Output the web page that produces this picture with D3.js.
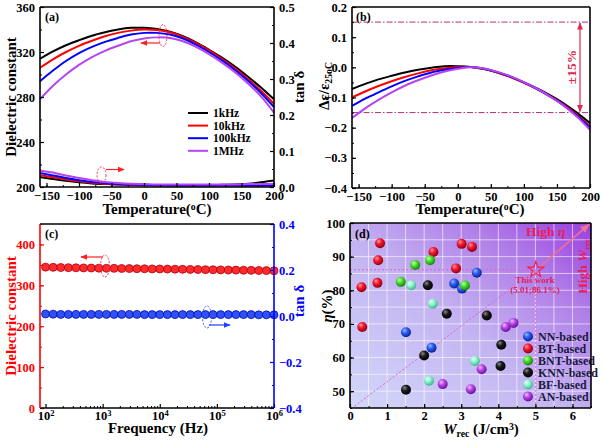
<!DOCTYPE html>
<html><head><meta charset="utf-8">
<script src="https://cdn.jsdelivr.net/npm/d3@7"></script>
<style>
body{margin:0;background:#fff}
svg{display:block}
text{font-family:"Liberation Serif","Times New Roman",serif;font-weight:bold}
</style>
</head><body>
<svg id="c" width="602" height="440"></svg>
<script>
// ---------------- DATA ----------------
const temps = [-160,-140,-120,-100,-80,-60,-40,-20,0,20,40,60,80,100,120,140,160,180,200];
const freqLabels = ["1kHz","10kHz","100kHz","1MHz"];
const eps1k   = [314,320.5,326,330.5,334.5,337.5,340,341.5,341.5,340.5,338,334,328.5,322,315,307,298,288.5,278];
const eps10k  = [306,313.5,320,325.5,330,334,337,339,340,339.5,337.5,333.5,328,321.5,314,305.5,296,285.5,274];
const eps100k = [294,303.5,312,319,324.5,329,332.5,335.5,337,337,335.5,332,326.5,320,312.5,304,294.5,283.5,271];
const eps1M   = [278,290,300,308.5,315.5,321,325.5,329.5,332,333,332.5,329.5,324.5,318,310.5,302,292,280.5,266];
const tan1k   = [0.028,0.022,0.017,0.013,0.010,0.008,0.007,0.006,0.006,0.005,0.005,0.005,0.005,0.005,0.006,0.007,0.009,0.013,0.018];
const tan10k  = [0.033,0.027,0.021,0.016,0.012,0.009,0.007,0.006,0.005,0.005,0.005,0.005,0.005,0.005,0.005,0.005,0.005,0.005,0.006];
const tan100k = [0.039,0.032,0.025,0.019,0.014,0.011,0.008,0.007,0.006,0.005,0.005,0.004,0.004,0.004,0.004,0.004,0.004,0.004,0.004];
const tan1M   = [0.046,0.040,0.032,0.025,0.019,0.014,0.011,0.009,0.008,0.007,0.007,0.007,0.007,0.007,0.007,0.007,0.008,0.008,0.009];
const tcc1k   = [-0.072,-0.055,-0.040,-0.028,-0.017,-0.008,-0.001,0.004,0.004,0.001,-0.006,-0.017,-0.032,-0.050,-0.070,-0.093,-0.119,-0.150,-0.185];
const tcc10k  = [-0.100,-0.080,-0.062,-0.046,-0.032,-0.020,-0.010,-0.003,0.002,0.001,-0.006,-0.017,-0.032,-0.051,-0.072,-0.096,-0.123,-0.157,-0.195];
const tcc100k = [-0.128,-0.104,-0.083,-0.063,-0.045,-0.030,-0.017,-0.008,-0.001,0.001,-0.005,-0.016,-0.031,-0.050,-0.072,-0.097,-0.125,-0.160,-0.200];
const tcc1M   = [-0.168,-0.136,-0.108,-0.083,-0.061,-0.043,-0.027,-0.014,-0.005,0.000,-0.004,-0.015,-0.030,-0.049,-0.071,-0.097,-0.127,-0.163,-0.207];

const freqs = [100,136,185,251,341,464,631,858,1166,1585,2154,2929,3981,5412,7356,10000,13594,18478,25119,34145,46416,63096,85770,116591,158489,215443,292864,398107,541170,735642,1000000];
const epsFreq = [344.5,344,343.6,343.2,342.9,342.6,342.3,342,341.7,341.5,341.2,341,340.7,340.5,340.2,340,339.7,339.5,339.2,339,338.7,338.4,338.1,337.8,337.5,337.2,336.9,336.6,336.3,336,335.5];
const tanFreq = [0.009,0.008,0.007,0.007,0.007,0.007,0.007,0.007,0.007,0.007,0.007,0.007,0.007,0.006,0.006,0.006,0.006,0.006,0.006,0.006,0.006,0.006,0.006,0.006,0.006,0.006,0.006,0.006,0.005,0.005,0.005];

const groups = ["NN-based","BT-based","BNT-based","KNN-based","BF-based","AN-based"];
const nnW  = [1.51,2.2,2.81,3.02,3.42];          const nnEta  = [67.5,62.9,82.0,80.5,85.2];
const btW  = [0.31,0.33,0.74,0.76,0.81,2.25,2.86,3.01,3.29]; const btEta = [80.9,69.1,82.2,88.9,94.0,91.4,86.5,93.8,92.9];
const bntW = [1.37,1.76,2.16,3.10];              const bntEta = [82.5,87.5,88.9,81.4];
const knnW = [1.51,2.0,2.1,2.61,3.69,4.06,4.08];  const knnEta = [50.4,60.6,81.5,73.0,72.5,57.5,63.8];
const bfW  = [1.65,2.23,2.13,3.37];              const bfEta  = [81.5,76.0,53.1,59.0];
const anW  = [2.5,3.26,3.55,4.2,4.41];           const anEta  = [52.1,50.6,56.5,69.1,70.3];
const thisWork = [5.01, 86.1];

// ---------------- SETUP ----------------
const svg = d3.select("#c");
svg.append("rect").attr("width",602).attr("height",440).attr("fill","#fff");
const defs = svg.append("defs");
function marker(id,color){
  const m = defs.append("marker").attr("id",id).attr("viewBox","0 0 10 10")
    .attr("refX",9).attr("refY",5).attr("markerWidth",6).attr("markerHeight",6)
    .attr("orient","auto-start-reverse");
  m.append("path").attr("d","M0,1 L10,5 L0,9 z").attr("fill",color);
}
marker("arR","#ff2020");
marker("arB","#2040ff");
marker("arP","#f07090");
marker("arM","#e0284a");

const FONT = '"Liberation Serif","Times New Roman",serif';

function axis(g, scale, orient, tr, major, minor, fmt, color, pad){
  const A = {left:d3.axisLeft,right:d3.axisRight,bottom:d3.axisBottom,top:d3.axisTop}[orient];
  const ga = g.append("g").attr("transform",tr)
    .call(A(scale).tickValues(major).tickSize(-4).tickPadding(pad||5).tickFormat(fmt===undefined?null:fmt));
  ga.select(".domain").remove();
  ga.selectAll("line").attr("stroke",color).attr("stroke-width",1.2);
  ga.selectAll("text").attr("fill",color).style("font-size","12.5px").style("font-family",FONT).style("font-weight","bold");
  if(minor){
    const gm = g.append("g").attr("transform",tr)
      .call(A(scale).tickValues(minor).tickSize(-2).tickFormat(""));
    gm.select(".domain").remove();
    gm.selectAll("line").attr("stroke",color).attr("stroke-width",1);
  }
  return ga;
}
function frame(x0,x1,y0,y1,cols){
  const c = cols || ["#000","#000","#000","#000"]; // top,right,bottom,left
  svg.append("line").attr("x1",x0).attr("x2",x1).attr("y1",y0).attr("y2",y0).attr("stroke",c[0]).attr("stroke-width",1.6);
  svg.append("line").attr("x1",x1).attr("x2",x1).attr("y1",y0).attr("y2",y1).attr("stroke",c[1]).attr("stroke-width",1.6);
  svg.append("line").attr("x1",x0).attr("x2",x1).attr("y1",y1).attr("y2",y1).attr("stroke",c[2]).attr("stroke-width",1.6);
  svg.append("line").attr("x1",x0).attr("x2",x0).attr("y1",y0).attr("y2",y1).attr("stroke",c[3]).attr("stroke-width",1.6);
}
function rtext(x,y,parts,opts){
  const t = svg.append("text").attr("transform",`translate(${x},${y})`+(opts.rot?` rotate(${opts.rot})`:""))
    .attr("text-anchor",opts.anchor||"middle").attr("fill",opts.color||"#000")
    .style("font-size",(opts.size||15)+"px");
  parts.forEach(p=>{
    const s = t.append("tspan").text(p[0]);
    if(p[1]==="sub") s.attr("baseline-shift","-30%").style("font-size",(opts.size||15)*0.65+"px");
    if(p[1]==="sup") s.attr("baseline-shift","45%").style("font-size",(opts.size||15)*0.65+"px");
    if(p[1]==="it") s.style("font-style","italic");
  });
  return t;
}
const seriesColors = ["#000000","#ff0000","#0000ff","#b545f0"];
const range = (a,b,s)=>d3.range(a,b+s/2,s);

// ---------------- PANEL A ----------------
{
  const x = d3.scaleLinear().domain([-160,200]).range([40,274]);
  const y = d3.scaleLinear().domain([200,360]).range([187,7]);
  const y2 = d3.scaleLinear().domain([0,0.5]).range([187,7]);
  const g = svg.append("g");
  const line = (yy)=>d3.line().x((d,i)=>x(temps[i])).y(d=>yy(d)).curve(d3.curveCatmullRom);
  [tan1k,tan10k,tan100k,tan1M].forEach((s,i)=>g.append("path").attr("d",line(y2)(s)).attr("fill","none").attr("stroke",seriesColors[i]).attr("stroke-width",2));
  [eps1k,eps10k,eps100k,eps1M].forEach((s,i)=>g.append("path").attr("d",line(y)(s)).attr("fill","none").attr("stroke",seriesColors[i]).attr("stroke-width",2));
  frame(40,274,7,187);
  axis(g,x,"bottom","translate(0,187)",range(-150,200,50),range(-150,200,25),d3.format("d"),"#000",4);
  axis(g,y,"left","translate(40,0)",range(200,360,40),range(200,360,20),d3.format("d"),"#000",5);
  axis(g,y2,"right","translate(274,0)",range(0,0.5,0.1),range(0,0.5,0.05),d3.format(".1f"),"#000",5);
  rtext(157,214,[["Temperature("],["o","sup"],["C)"]],{size:15});
  rtext(16,97,[["Dielectric constant"]],{size:15,rot:-90});
  rtext(304,87,[["tan δ"]],{size:15,rot:-90});
  rtext(45,21,[["(a)"]],{size:12,anchor:"start"});
  freqLabels.forEach((f,i)=>{
    const yy = 113 + i*12.6;
    g.append("line").attr("x1",188).attr("x2",208).attr("y1",yy).attr("y2",yy).attr("stroke",seriesColors[i]).attr("stroke-width",2);
    rtext(213,yy+4,[[f]],{size:11.5,anchor:"start"});
  });
  g.append("ellipse").attr("cx",163).attr("cy",35.5).attr("rx",4).attr("ry",11).attr("fill","none").attr("stroke","#ff3060").attr("stroke-width",1).attr("stroke-dasharray","2,1.5");
  g.append("line").attr("x1",160).attr("x2",141).attr("y1",43).attr("y2",43).attr("stroke","#ff2020").attr("stroke-width",1.2).attr("marker-end","url(#arR)");
  g.append("ellipse").attr("cx",101.5).attr("cy",175).attr("rx",4.5).attr("ry",8).attr("fill","none").attr("stroke","#ff3060").attr("stroke-width",1).attr("stroke-dasharray","2,1.5");
  g.append("line").attr("x1",106).attr("x2",124).attr("y1",169.5).attr("y2",169.5).attr("stroke","#ff2020").attr("stroke-width",1.2).attr("marker-end","url(#arR)");
}

// ---------------- PANEL B ----------------
{
  const x = d3.scaleLinear().domain([-160,200]).range([352,590]);
  const y = d3.scaleLinear().domain([-0.4,0.2]).range([188,7]);
  const g = svg.append("g");
  const line = d3.line().x((d,i)=>x(temps[i])).y(d=>y(d)).curve(d3.curveCatmullRom);
  [0.15,-0.15].forEach(v=>g.append("line").attr("x1",352).attr("x2",590).attr("y1",y(v)).attr("y2",y(v))
    .attr("stroke","#b0307a").attr("stroke-width",1).attr("stroke-dasharray","6,2,1.5,2"));
  [tcc1k,tcc10k,tcc100k,tcc1M].forEach((s,i)=>g.append("path").attr("d",line(s)).attr("fill","none").attr("stroke",seriesColors[i]).attr("stroke-width",2));
  g.append("line").attr("x1",580).attr("x2",580).attr("y1",y(0.15)+1).attr("y2",y(-0.15)-1).attr("stroke","#e0284a").attr("stroke-width",1.2)
    .attr("marker-start","url(#arM)").attr("marker-end","url(#arM)");
  rtext(576,67,[["±15%"]],{size:13.5,rot:-90,color:"#e0284a"});
  frame(352,590,7,188);
  axis(g,x,"bottom","translate(0,188)",range(-150,200,50),range(-150,200,25),d3.format("d"),"#000",4);
  axis(g,y,"left","translate(352,0)",range(-0.4,0.2,0.1),range(-0.4,0.2,0.05),d3.format(".1f"),"#000",5);
  rtext(470,214,[["Temperature("],["o","sup"],["C)"]],{size:15});
  rtext(329,86,[["Δε/ε"],["25","sub"],["o","sub"],["C","sub"]],{size:15,rot:-90});
  rtext(356,21,[["(b)"]],{size:12,anchor:"start"});
}

// ---------------- PANEL C ----------------
{
  const x = d3.scaleLog().domain([80,1e6]).range([40,274]);
  const y = d3.scaleLinear().domain([0,450]).range([408,224]);
  const y2 = d3.scaleLinear().domain([-0.4,0.4]).range([408,224]);
  const g = svg.append("g");
  const lr = d3.line().x((d,i)=>x(freqs[i])).y(d=>y(d));
  const lb = d3.line().x((d,i)=>x(freqs[i])).y(d=>y2(d));
  g.append("path").attr("d",lr(epsFreq)).attr("fill","none").attr("stroke","#ff0000").attr("stroke-width",1.5);
  g.append("path").attr("d",lb(tanFreq)).attr("fill","none").attr("stroke","#0000ff").attr("stroke-width",1.5);
  g.selectAll(".cr").data(epsFreq).enter().append("circle").attr("cx",(d,i)=>x(freqs[i])).attr("cy",d=>y(d)).attr("r",4)
    .attr("fill","#ff2a2a").attr("stroke","#b00010").attr("stroke-width",0.8);
  g.selectAll(".cb").data(tanFreq).enter().append("circle").attr("cx",(d,i)=>x(freqs[i])).attr("cy",d=>y2(d)).attr("r",4)
    .attr("fill","#3050ff").attr("stroke","#0010a0").attr("stroke-width",0.8);
  frame(40,274,224,408,["#000","#0000ff","#000","#ff0000"]);
  const minors = [];
  [100,1000,10000,100000].forEach(d=>{for(let k=2;k<10;k++) minors.push(d*k);});
  const xa = axis(g,x,"bottom","translate(0,408)",[1e2,1e3,1e4,1e5,1e6],minors,"","#000",3.5);
  xa.selectAll(".tick text").each(function(d){
    const t = d3.select(this);
    t.append("tspan").text("10");
    t.append("tspan").text(Math.round(Math.log10(d))).attr("baseline-shift","45%").style("font-size","8.5px");
  });
  axis(g,y,"left","translate(40,0)",range(0,400,100),range(0,450,50),d3.format("d"),"#ff0000",5);
  axis(g,y2,"right","translate(274,0)",range(-0.4,0.4,0.2),range(-0.4,0.4,0.1),d3.format(".1f"),"#0000ff",5);
  rtext(158,433,[["Frequency (Hz)"]],{size:15});
  rtext(16,316,[["Dielectric constant"]],{size:15,rot:-90,color:"#ff0000"});
  rtext(304,301,[["tan δ"]],{size:15,rot:-90,color:"#0000ff"});
  rtext(45,238,[["(c)"]],{size:12,anchor:"start"});
  g.append("ellipse").attr("cx",105).attr("cy",266).attr("rx",4.5).attr("ry",11).attr("fill","none").attr("stroke","#ff3060").attr("stroke-width",1).attr("stroke-dasharray","2,1.5");
  g.append("line").attr("x1",103).attr("x2",81).attr("y1",257).attr("y2",257).attr("stroke","#ff2020").attr("stroke-width",1.2).attr("marker-end","url(#arR)");
  g.append("ellipse").attr("cx",207).attr("cy",317).attr("rx",4.5).attr("ry",11).attr("fill","none").attr("stroke","#3050ff").attr("stroke-width",1).attr("stroke-dasharray","2,1.5");
  g.append("line").attr("x1",209).attr("x2",230).attr("y1",325).attr("y2",325).attr("stroke","#2040ff").attr("stroke-width",1.2).attr("marker-end","url(#arB)");
}

// ---------------- PANEL D ----------------
{
  const x = d3.scaleLinear().domain([0,6.5]).range([350,591]);
  const y = d3.scaleLinear().domain([45,100]).range([408,223]);
  const g = svg.append("g");
  const bg = defs.append("linearGradient").attr("id","bgD").attr("x1",0).attr("y1",1).attr("x2",1).attr("y2",0);
  bg.append("stop").attr("offset",0).attr("stop-color","#d2d8fa");
  bg.append("stop").attr("offset",0.45).attr("stop-color","#c4b4f2");
  bg.append("stop").attr("offset",0.75).attr("stop-color","#b07ee8");
  bg.append("stop").attr("offset",1).attr("stop-color","#9a3ee0");
  g.append("rect").attr("x",350).attr("y",223).attr("width",241).attr("height",185).attr("fill","url(#bgD)");
  range(0.5,6,0.5).forEach(v=>g.append("line").attr("x1",x(v)).attr("x2",x(v)).attr("y1",223).attr("y2",408).attr("stroke","#fff").attr("stroke-opacity",0.6).attr("stroke-width",1));
  range(50,95,5).forEach(v=>g.append("line").attr("x1",350).attr("x2",591).attr("y1",y(v)).attr("y2",y(v)).attr("stroke","#fff").attr("stroke-opacity",0.6).attr("stroke-width",1));
  const pk = "#e060c8";
  g.append("line").attr("x1",x(0)).attr("x2",x(thisWork[0])).attr("y1",y(thisWork[1])).attr("y2",y(thisWork[1])).attr("stroke",pk).attr("stroke-width",1).attr("stroke-dasharray","2,2");
  g.append("line").attr("x1",x(thisWork[0])).attr("x2",x(thisWork[0])).attr("y1",y(45)).attr("y2",y(thisWork[1])).attr("stroke",pk).attr("stroke-width",1).attr("stroke-dasharray","2,2");
  g.append("line").attr("x1",x(0.12)).attr("x2",x(thisWork[0])).attr("y1",y(45.5)).attr("y2",y(thisWork[1])).attr("stroke",pk).attr("stroke-width",1).attr("stroke-dasharray","2,2");
  g.append("line").attr("x1",x(thisWork[0])+4).attr("x2",x(6.45)).attr("y1",y(thisWork[1])-3).attr("y2",y(99.6)).attr("stroke","#f07090").attr("stroke-width",1.6).attr("marker-end","url(#arP)");
  const cols = ["#2a5cf0","#f01830","#44e02a","#1a1a1a","#8ff5cf","#b848e8"];
  const hi   = ["#9fb8ff","#ff9aa0","#c8ffb0","#8a8a8a","#f0fff8","#f0c0ff"];
  const dk   = ["#0a2090","#900010","#1a8010","#000000","#40b090","#6a10a0"];
  cols.forEach((c,i)=>{
    const rg = defs.append("radialGradient").attr("id","sp"+i).attr("cx","40%").attr("cy","35%").attr("r","65%").attr("fx","35%").attr("fy","30%");
    rg.append("stop").attr("offset",0).attr("stop-color",hi[i]);
    rg.append("stop").attr("offset",0.45).attr("stop-color",c);
    rg.append("stop").attr("offset",1).attr("stop-color",dk[i]);
  });
  const sets = [[nnW,nnEta],[btW,btEta],[bntW,bntEta],[knnW,knnEta],[bfW,bfEta],[anW,anEta]];
  sets.forEach((s,i)=>{
    g.selectAll(null).data(s[0]).enter().append("circle").attr("cx",d=>x(d)).attr("cy",(d,j)=>y(s[1][j])).attr("r",5).attr("fill",`url(#sp${i})`);
  });
  g.append("path").attr("d",d3.symbol(d3.symbolStar).size(80)()).attr("transform",`translate(${x(thisWork[0])},${y(thisWork[1])})`)
    .attr("fill","none").attr("stroke","#ff1a40").attr("stroke-width",1.1);
  rtext(535,283,[["This work"]],{size:9,color:"#e0205a"});
  rtext(535,293,[["("+thisWork[0].toFixed(2)+";"+thisWork[1]+"%)"]],{size:9,color:"#e0205a"});
  rtext(526,236,[["High "],["η","it"]],{size:13.5,anchor:"start",color:"#e8205a"});
  rtext(587,266,[["High "],["W","it"],["rec","sub"]],{size:13.5,rot:-90,color:"#e8205a"});
  groups.forEach((n,i)=>{
    const yy = 336.5 + i*12;
    g.append("circle").attr("cx",528).attr("cy",yy).attr("r",5).attr("fill",`url(#sp${i})`);
    rtext(538,yy+4,[[n]],{size:12,anchor:"start",color:"#1a1a40"});
  });
  frame(350,591,223,408);
  axis(g,x,"bottom","translate(0,408)",range(0,6,1),range(0,6.5,0.5),d3.format("d"),"#000",3);
  axis(g,y,"left","translate(350,0)",range(50,100,10),range(45,100,5),d3.format("d"),"#000",5);
  rtext(481,434,[["W","it"],["rec","sub"],[" (J/cm"],["3","sup"],[")"]],{size:15});
  rtext(332,306,[["η","it"],["(%)"]],{size:15,rot:-90});
  rtext(355,238,[["(d)"]],{size:12,anchor:"start"});
}
</script>
</body></html>
